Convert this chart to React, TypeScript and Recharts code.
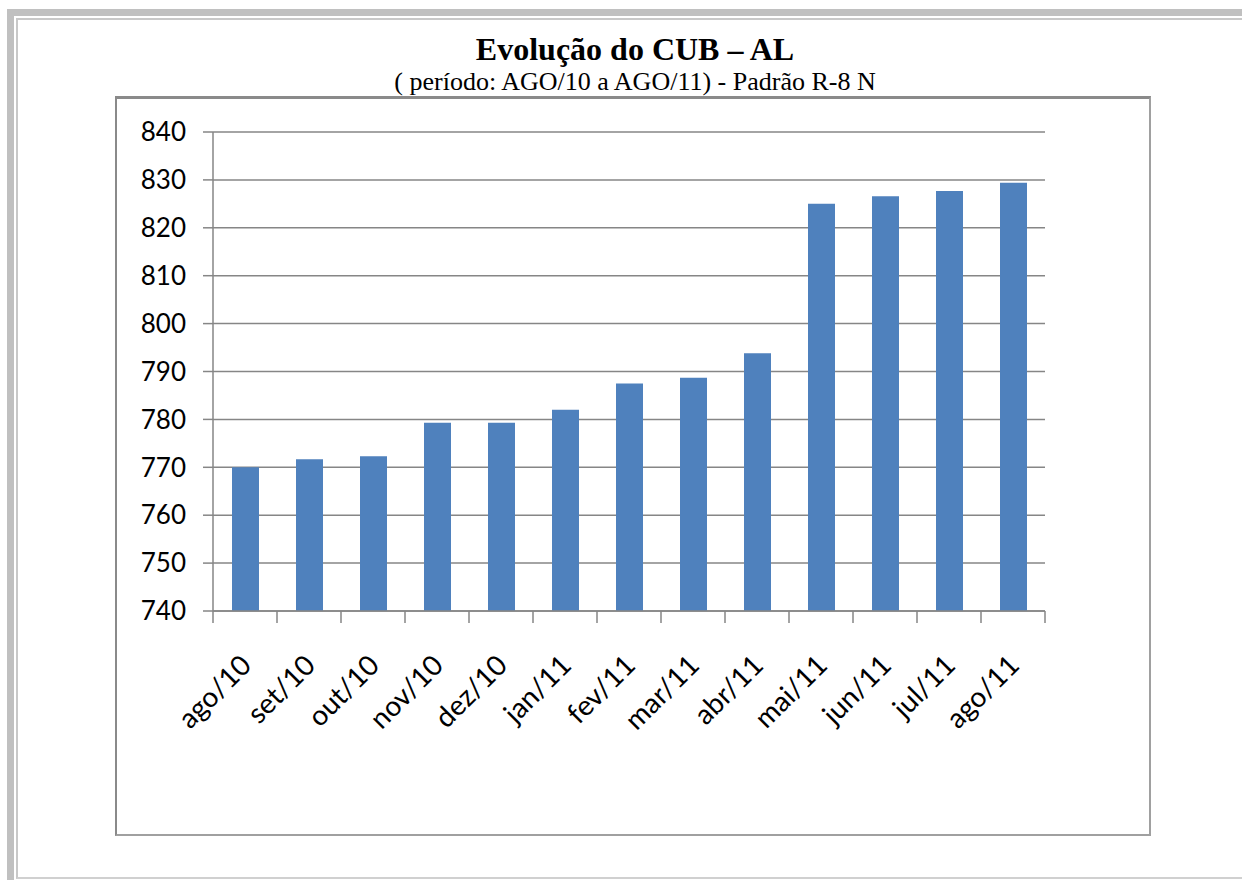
import { BarChart, Bar, XAxis, YAxis, CartesianGrid } from 'recharts'

const MONTHS = [
  'ago/10', 'set/10', 'out/10', 'nov/10', 'dez/10', 'jan/11', 'fev/11',
  'mar/11', 'abr/11', 'mai/11', 'jun/11', 'jul/11', 'ago/11',
]
const CUB = [770.0, 771.7, 772.3, 779.3, 779.3, 782.0, 787.5, 788.7, 793.8, 825.0, 826.6, 827.7, 829.4]
const Y_TICKS = [740, 750, 760, 770, 780, 790, 800, 810, 820, 830, 840]

const data = MONTHS.map((m, i) => ({ month: m, cub: CUB[i] }))

const CHART_W = 1036
const CHART_H = 740
const MARGIN = { top: 36, right: 106, left: 0, bottom: 0 }
const Y_AXIS_W = 98
const BAND = (CHART_W - MARGIN.left - MARGIN.right - Y_AXIS_W) / MONTHS.length

const AXIS = '#868686'
const FONT = 'Lato, "Open Sans", sans-serif'

// Excel style: ticks sit between categories, labels at 45°
function MonthTick(props: any) {
  const { x, y, payload, index } = props
  const last = index === MONTHS.length - 1
  return (
    <g>
      <line x1={x - BAND / 2} x2={x - BAND / 2} y1={y} y2={y + 12} stroke={AXIS} strokeWidth={1.5} />
      {last && <line x1={x + BAND / 2} x2={x + BAND / 2} y1={y} y2={y + 12} stroke={AXIS} strokeWidth={1.5} />}
      <text
        transform={`translate(${x + 8},${y + 56}) rotate(-45)`}
        textAnchor="end"
        fontSize={28}
        fontFamily={FONT}
        fill="#000"
      >
        {payload.value}
      </text>
    </g>
  )
}

export default function App() {
  return (
    <div style={{ position: 'absolute', left: 0, top: 0, width: 1242, height: 880, background: '#fff', overflow: 'hidden' }}>
      {/* page frame */}
      <div style={{ position: 'absolute', left: 7, top: 9, right: -20, bottom: -20, borderTop: '7px solid #c0c0c0', borderLeft: '7px solid #c0c0c0' }} />
      <div style={{ position: 'absolute', left: 16, top: 18, right: -20, bottom: 1, borderTop: '2px solid #c8c8c8', borderLeft: '2px solid #c8c8c8', borderBottom: '2px solid #d0d0d0' }} />

      <div style={{ position: 'absolute', left: 0, width: 1270, top: 30, textAlign: 'center', fontFamily: '"Liberation Serif", serif', color: '#000' }}>
        <div style={{ fontSize: 32, fontWeight: 'bold', lineHeight: '38px' }}>Evolução do CUB – AL</div>
        <div style={{ fontSize: 26, lineHeight: '28px', marginTop: 0 }}>( período: AGO/10 a AGO/11) - Padrão R-8 N</div>
      </div>

      <div style={{ position: 'absolute', left: 115, top: 96, width: CHART_W - 4, height: CHART_H - 5, borderTop: '3px solid #8a8a8a', borderLeft: '2px solid #8a8a8a', borderRight: '2px solid #a0a0a0', borderBottom: '2px solid #a0a0a0' }} />

      <div style={{ position: 'absolute', left: 115, top: 96 }}>
        <BarChart width={CHART_W} height={CHART_H} data={data} margin={MARGIN}>
          <CartesianGrid vertical={false} stroke={AXIS} strokeWidth={1.5} />
          <YAxis
            domain={[740, 840]}
            ticks={Y_TICKS}
            interval={0}
            width={Y_AXIS_W}
            allowDataOverflow
            axisLine={{ stroke: AXIS, strokeWidth: 1.5 }}
            tickLine={{ stroke: AXIS, strokeWidth: 1.5 }}
            tickSize={10}
            tickMargin={17}
            tick={{ fontSize: 26, fontFamily: FONT, fill: '#000' }}
          />
          <XAxis
            dataKey="month"
            interval={0}
            height={225}
            axisLine={{ stroke: AXIS, strokeWidth: 1.5 }}
            tickLine={false}
            tickSize={0}
            tickMargin={0}
            tick={<MonthTick />}
          />
          <Bar dataKey="cub" fill="#4f81bd" barSize={27} isAnimationActive={false} />
        </BarChart>
      </div>
    </div>
  )
}
